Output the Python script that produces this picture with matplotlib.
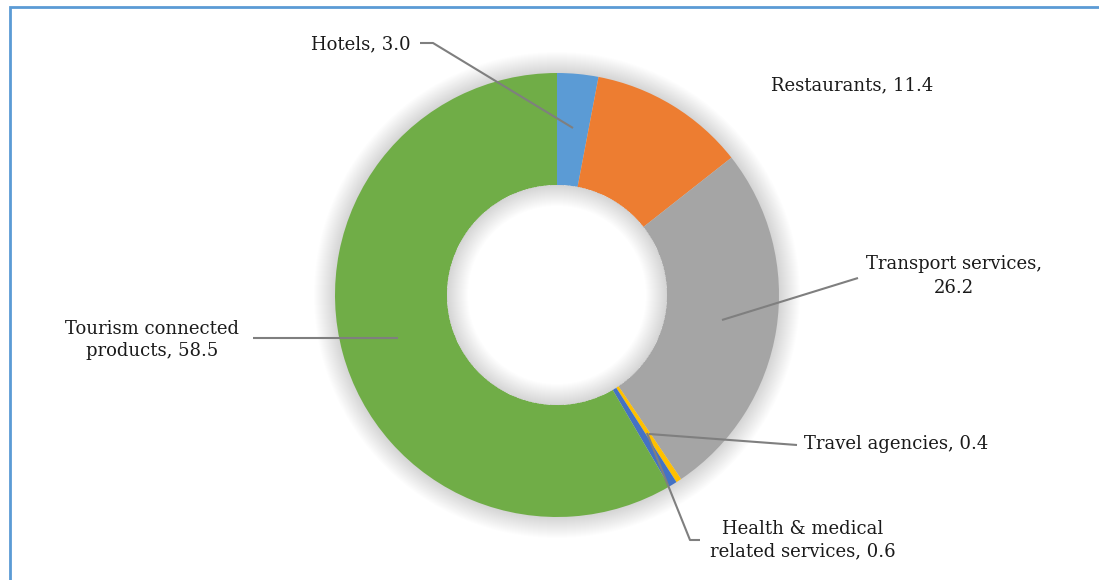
import matplotlib
matplotlib.use("Agg")
import matplotlib.pyplot as plt
from matplotlib.patches import Wedge, Circle

categories = ["Hotels", "Restaurants", "Transport services", "Travel agencies",
              "Health & medical related services", "Tourism connected products"]
values = [3.0, 11.4, 26.2, 0.4, 0.6, 58.5]
colors = ["#5B9BD5", "#ED7D31", "#A5A5A5", "#FFC000", "#4472C4", "#70AD47"]

W, H = 1099, 580
fig = plt.figure(figsize=(W / 100, H / 100), dpi=100)
ax = fig.add_axes([0, 0, 1, 1])

def Y(py):
    return H - py

cx, cy = 557, Y(295)
R_out, R_in = 222, 110

# soft glow / shadow around the ring
for k in range(1, 22):
    ax.add_patch(Circle((cx, cy), R_out + k, facecolor="#000000",
                        alpha=0.008, edgecolor="none", zorder=1))

ax.pie(values, colors=colors, startangle=90, counterclock=False, radius=R_out,
       center=(cx, cy), wedgeprops=dict(width=R_out - R_in, edgecolor="none", linewidth=0),
       frame=False)
for w in ax.patches[-len(values):]:
    w.set_zorder(2)

ax.add_patch(Circle((cx, cy), R_in, facecolor="white", edgecolor="none", zorder=2.5))
for k in range(1, 22):
    ax.add_patch(Wedge((cx, cy), R_in, 0, 360, width=k, facecolor="#000000",
                       alpha=0.006, edgecolor="none", zorder=3))

ax.set_xlim(0, W)
ax.set_ylim(0, H)
ax.set_aspect("auto")
ax.axis("off")

font = dict(family="DejaVu Serif", fontsize=13, color="#1a1a1a", zorder=5)
lc = dict(color="#7F7F7F", linewidth=1.5, zorder=4, solid_capstyle="butt")

def lab(v):
    return f"{v:.1f}"

# Hotels
ax.plot([573, 433, 420], [Y(128), Y(43), Y(43)], **lc)
ax.text(411, Y(44), f"{categories[0]}, {lab(values[0])}", ha="right", va="center", **font)
# Restaurants
ax.text(771, Y(85), f"{categories[1]}, {lab(values[1])}", ha="left", va="center", **font)
# Transport
ax.plot([722, 858], [Y(320), Y(278)], **lc)
ax.text(954, Y(276), f"{categories[2]},\n{lab(values[2])}", ha="center", va="center",
        multialignment="center", linespacing=1.4, **font)
# Travel agencies
ax.plot([649, 797], [Y(434), Y(445)], **lc)
ax.text(804, Y(444), f"{categories[3]}, {lab(values[3])}", ha="left", va="center", **font)
# Health
ax.plot([647, 690, 700], [Y(433), Y(540), Y(540)], **lc)
ax.text(803, Y(540), "Health & medical\nrelated services, " + lab(values[4]), ha="center",
        va="center", multialignment="center", linespacing=1.35, **font)
# Tourism
ax.plot([253, 398], [Y(338), Y(338)], **lc)
ax.text(152, Y(340), "Tourism connected\nproducts, " + lab(values[5]), ha="center",
        va="center", multialignment="center", linespacing=1.35, **font)

# frame lines (left and top)
ax.plot([9.5, 9.5, W], [0, Y(6.5), Y(6.5)], color="#5B9BD5", linewidth=2, zorder=6,
        solid_joinstyle="miter")

fig.savefig("out.png", dpi=100)
